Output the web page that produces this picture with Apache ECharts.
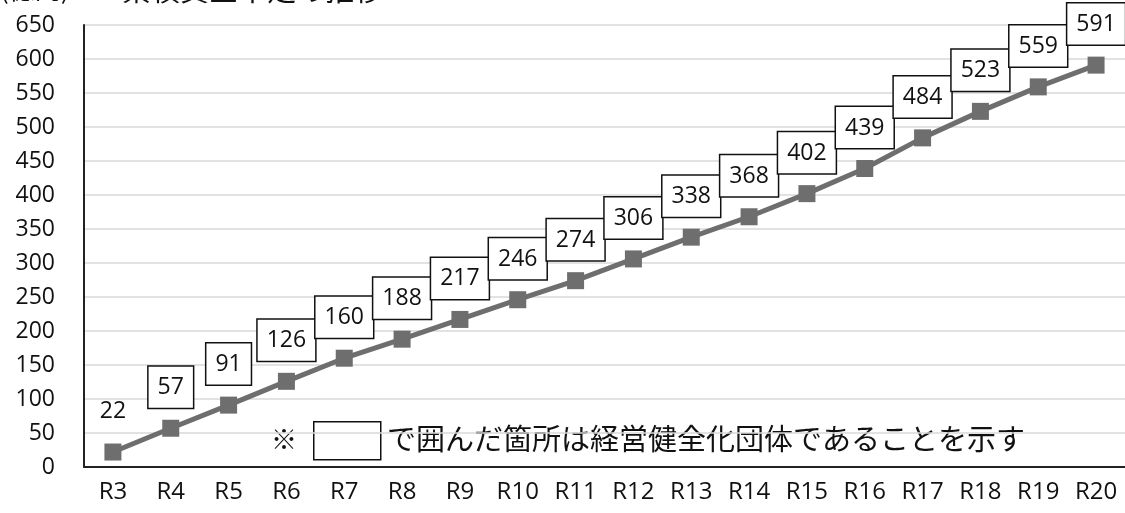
<!DOCTYPE html>
<html>
<head>
<meta charset="utf-8">
<script src="https://cdn.jsdelivr.net/npm/echarts@6/dist/echarts.min.js"></script>
<style>
  html, body { margin: 0; padding: 0; background: #fff; }
  #chart { width: 1125px; height: 513px; }
</style>
</head>
<body>
<div id="chart"></div>
<script>
// Fiscal years (令和)
const years = ['R3', 'R4', 'R5', 'R6', 'R7', 'R8', 'R9', 'R10', 'R11', 'R12',
               'R13', 'R14', 'R15', 'R16', 'R17', 'R18', 'R19', 'R20'];
// Cumulative funding shortfall
const shortfall = [22, 57, 91, 126, 160, 188, 217, 246, 274, 306,
                   338, 368, 402, 439, 484, 523, 559, 591];
// Years flagged as 経営健全化団体 (value label drawn inside a frame)
const framed = [false, true, true, true, true, true, true, true, true, true,
                true, true, true, true, true, true, true, true];
// Value axis ticks
const yMin = 0, yMax = 650, yStep = 50;

const titleUnit = '(億円)';
const titleText = '累積資金不足の推移';
const noteText = 'で囲んだ箇所は経営健全化団体であることを示す';

const FONT = "'Open Sans', 'Noto Sans CJK JP', sans-serif";
const JP = "'Noto Sans CJK JP', sans-serif";

const seriesData = shortfall.map((v, i) => framed[i] ? v : {
  value: v,
  label: { borderWidth: 0, backgroundColor: 'transparent' }
});

const chart = echarts.init(document.getElementById('chart'));
chart.setOption({
  animation: false,
  backgroundColor: '#fff',
  grid: { left: 84, right: 0, top: 25, bottom: 46, containLabel: false },
  xAxis: {
    type: 'category',
    data: years,
    boundaryGap: true,
    axisLine: { lineStyle: { color: '#222', width: 2 } },
    axisTick: { show: false },
    axisLabel: { color: '#111', fontSize: 24, fontFamily: FONT, margin: 13 }
  },
  yAxis: {
    type: 'value',
    min: yMin, max: yMax, interval: yStep,
    axisLine: { show: true, lineStyle: { color: '#222', width: 2 } },
    axisTick: { show: false },
    axisLabel: { color: '#111', fontSize: 23, fontFamily: FONT, margin: 29 },
    splitLine: { lineStyle: { color: '#d9d9d9', width: 1.5 } }
  },
  series: [{
    type: 'line',
    data: seriesData,
    symbol: 'rect',
    symbolSize: 17,
    itemStyle: { color: '#6e6e6e' },
    lineStyle: { color: '#6e6e6e', width: 5 },
    label: {
      show: true,
      position: 'top',
      distance: 12,
      color: '#111',
      fontSize: 23,
      fontFamily: FONT,
      lineHeight: 24,
      backgroundColor: '#fff',
      borderColor: '#111',
      borderWidth: 1.5,
      padding: [9, 9, 8, 9]
    },
    z: 3
  }],
  graphic: [
    {
      type: 'text', left: 0, top: -24,
      style: { text: titleUnit, fontSize: 26, fontFamily: JP, fill: '#111' }
    },
    {
      type: 'text', left: 122, top: -25,
      style: { text: titleText, fontSize: 29, fontFamily: JP, fill: '#111' }
    },
    {
      type: 'text', left: 271, top: 426,
      style: { text: '※', fontSize: 26, fontFamily: JP, fill: '#111' }
    },
    {
      type: 'rect', left: 313, top: 421,
      shape: { width: 67, height: 38 },
      style: { fill: '#fff', stroke: '#111', lineWidth: 1.5 }
    },
    {
      type: 'text', left: 387, top: 424,
      style: { text: noteText, fontSize: 29, fontFamily: JP, fill: '#111' }
    }
  ]
});
</script>
</body>
</html>
